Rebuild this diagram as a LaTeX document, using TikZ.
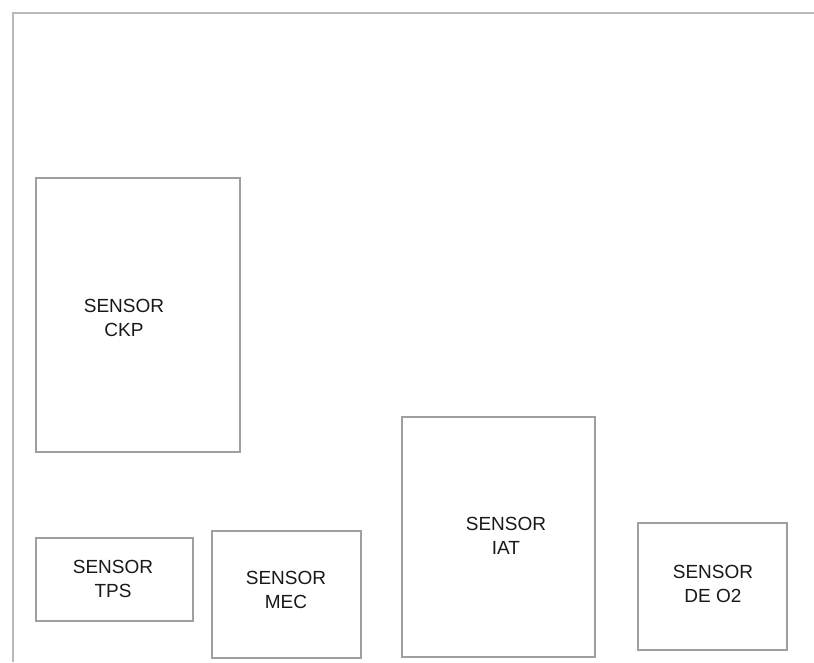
\documentclass[tikz,border=0pt]{standalone}
\usepackage{fontspec}
\setmainfont{Liberation Sans}
\usetikzlibrary{positioning}

\begin{document}
\begin{tikzpicture}[x=1pt, y=-1pt,
      marco/.style={draw=gray!55, line width=2pt},
      caja/.style={draw=gray!75, line width=1.3pt, inner sep=0pt, outer sep=0pt},
      rotulo/.style={font=\fontsize{19}{24}\selectfont, text=black!90, align=center}]

    \useasboundingbox[fill=white] (0,0) rectangle (814,662);

    % marco exterior
    \draw[marco] (13,662) -- (13,13) -- (814,13);

    % sensores
    \node[caja, minimum width=204, minimum height=274] (ckp) at (138,315) {};
    \node[caja, minimum width=157, minimum height=83] (tps) at (114.5,579.5) {};
    \node[caja, minimum width=149, minimum height=127] (mec) at (286.5,594.5) {};
    \node[caja, minimum width=193, minimum height=240] (iat) at (498.5,537) {};
    \node[caja, minimum width=149, minimum height=127] (o2) at (712.5,586.5) {};

    % rotulos
    \node[rotulo] (tckp) at (124,318) {SENSOR\\CKP};
    \node[rotulo] (ttps) at (113,579) {SENSOR\\TPS};
    \node[rotulo] (tmec) at (286,590) {SENSOR\\MEC};
    \node[rotulo] (tiat) at (506,536) {SENSOR\\IAT};
    \node[rotulo] (to2) at (713,584) {SENSOR\\DE O2};
\end{tikzpicture}
\end{document}
